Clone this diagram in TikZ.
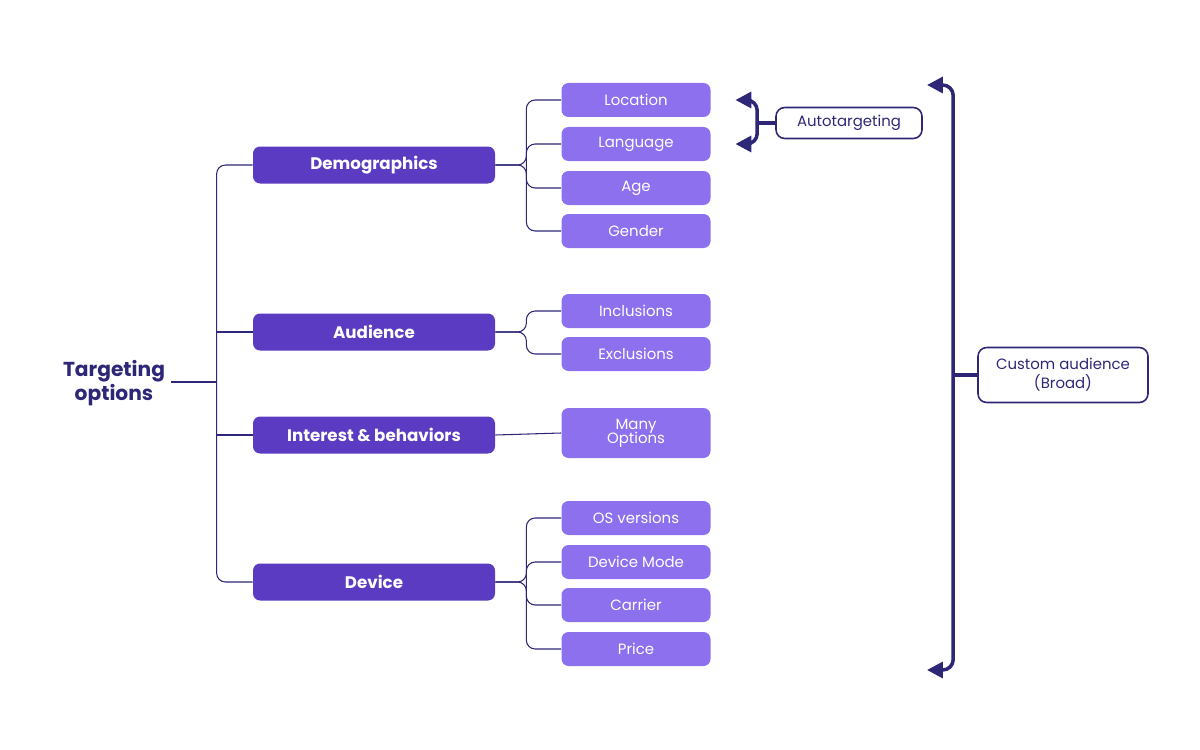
\documentclass[tikz,border=0pt]{standalone}
\usepackage{fontspec}
\setmainfont{Poppins}
\usetikzlibrary{positioning,arrows.meta}
\definecolor{navy}{HTML}{2E2777}
\definecolor{grape}{HTML}{5A3BC2}
\definecolor{lilac}{HTML}{8C70EE}
\tikzset{
  main/.style={fill=grape, text=white, rounded corners=4pt, minimum width=242*0.02cm,
    minimum height=37*0.02cm, font=\bfseries\fontsize{9.5}{11}\selectfont},
  leaf/.style={fill=lilac, text=white, rounded corners=4pt, minimum width=149*0.02cm,
    minimum height=34*0.02cm, align=center, font=\fontsize{8.5}{10}\selectfont},
  tag/.style={draw=navy, line width=0.9pt, text=navy, rounded corners=5pt, align=center,
    font=\fontsize{8.5}{11}\selectfont},
  tree/.style={draw=navy, line width=0.6pt, rounded corners=5pt},
  brace/.style={draw=navy, line width=2pt, rounded corners=6pt},
  tip/.style={-{Triangle[length=9pt,width=9pt]}}
}
\begin{document}
\begin{tikzpicture}[x=0.02cm, y=-0.02cm]
  \useasboundingbox (0,0) rectangle (1200,750);

  \node[text=navy, font=\bfseries\fontsize{11.5}{13.5}\selectfont, align=center] (root) at (114,383) {Targeting\\options};

  \node[main] (dem) at (374,165) {Demographics};
  \node[main] (aud) at (374,332) {Audience};
  \node[main] (int) at (374,435) {Interest \& behaviors};
  \node[main] (dev) at (374,582) {Device};

  \node[leaf] (loc)  at (636,100) {Location};
  \node[leaf] (lang) at (636,144) {Language};
  \node[leaf] (age)  at (636,188) {Age};
  \node[leaf] (gen)  at (636,231) {Gender};
  \node[leaf] (inc)  at (636,311) {Inclusions};
  \node[leaf] (exc)  at (636,354) {Exclusions};
  \node[leaf, minimum height=50*0.02cm] (many) at (636,433) {Many\\[-2pt]Options};
  \node[leaf] (os)   at (636,518) {OS versions};
  \node[leaf] (mode) at (636,562) {Device Mode};
  \node[leaf] (car)  at (636,605) {Carrier};
  \node[leaf] (pri)  at (636,649) {Price};

  \node[tag, minimum width=146*0.02cm, minimum height=31*0.02cm] (auto) at (849,123) {Autotargeting};
  \node[tag, minimum width=170*0.02cm, minimum height=55*0.02cm] (cust) at (1063,375) {Custom audience\\(Broad)};

  \coordinate (hub) at (217,382);
  \coordinate (top) at (927,85);
  \coordinate (bot) at (927,670);

  % tree on the left
  \draw[tree] (root.east |- hub) -- (hub);
  \draw[tree] (dem.west) -- ++(-36,0) |- (dev.west);
  \draw[tree] (aud.west) -- ++(-36,0);
  \draw[tree] (int.west) -- ++(-36,0);
  \foreach \p/\a/\b in {dem/loc/gen, aud/inc/exc, dev/os/pri} {
    \draw[tree] (\p.east) -- ++(31,0) |- (\a.west);
    \draw[tree] (\p.east) -- ++(31,0) |- (\b.west);
  }
  \draw[tree] (dem.east) ++(31,0) |- (lang.west);
  \draw[tree] (dem.east) ++(31,0) |- (age.west);
  \draw[tree] (dev.east) ++(31,0) |- (mode.west);
  \draw[tree] (dev.east) ++(31,0) |- (car.west);
  \draw[tree] (int.east) -- (many.west);

  % brackets on the right
  \draw[brace] (auto.west) -- ++(-16,0);
  \draw[brace, tip] (auto.west) ++(-18,0) |- ([xshift=14]loc.east);
  \draw[brace, tip] (auto.west) ++(-18,0) |- ([xshift=14]lang.east);
  \draw[brace] (cust.west) -- ++(-24,0);
  \draw[brace, tip] (cust.west) ++(-24,0) |- (top);
  \draw[brace, tip] (cust.west) ++(-24,0) |- (bot);
\end{tikzpicture}
\end{document}
